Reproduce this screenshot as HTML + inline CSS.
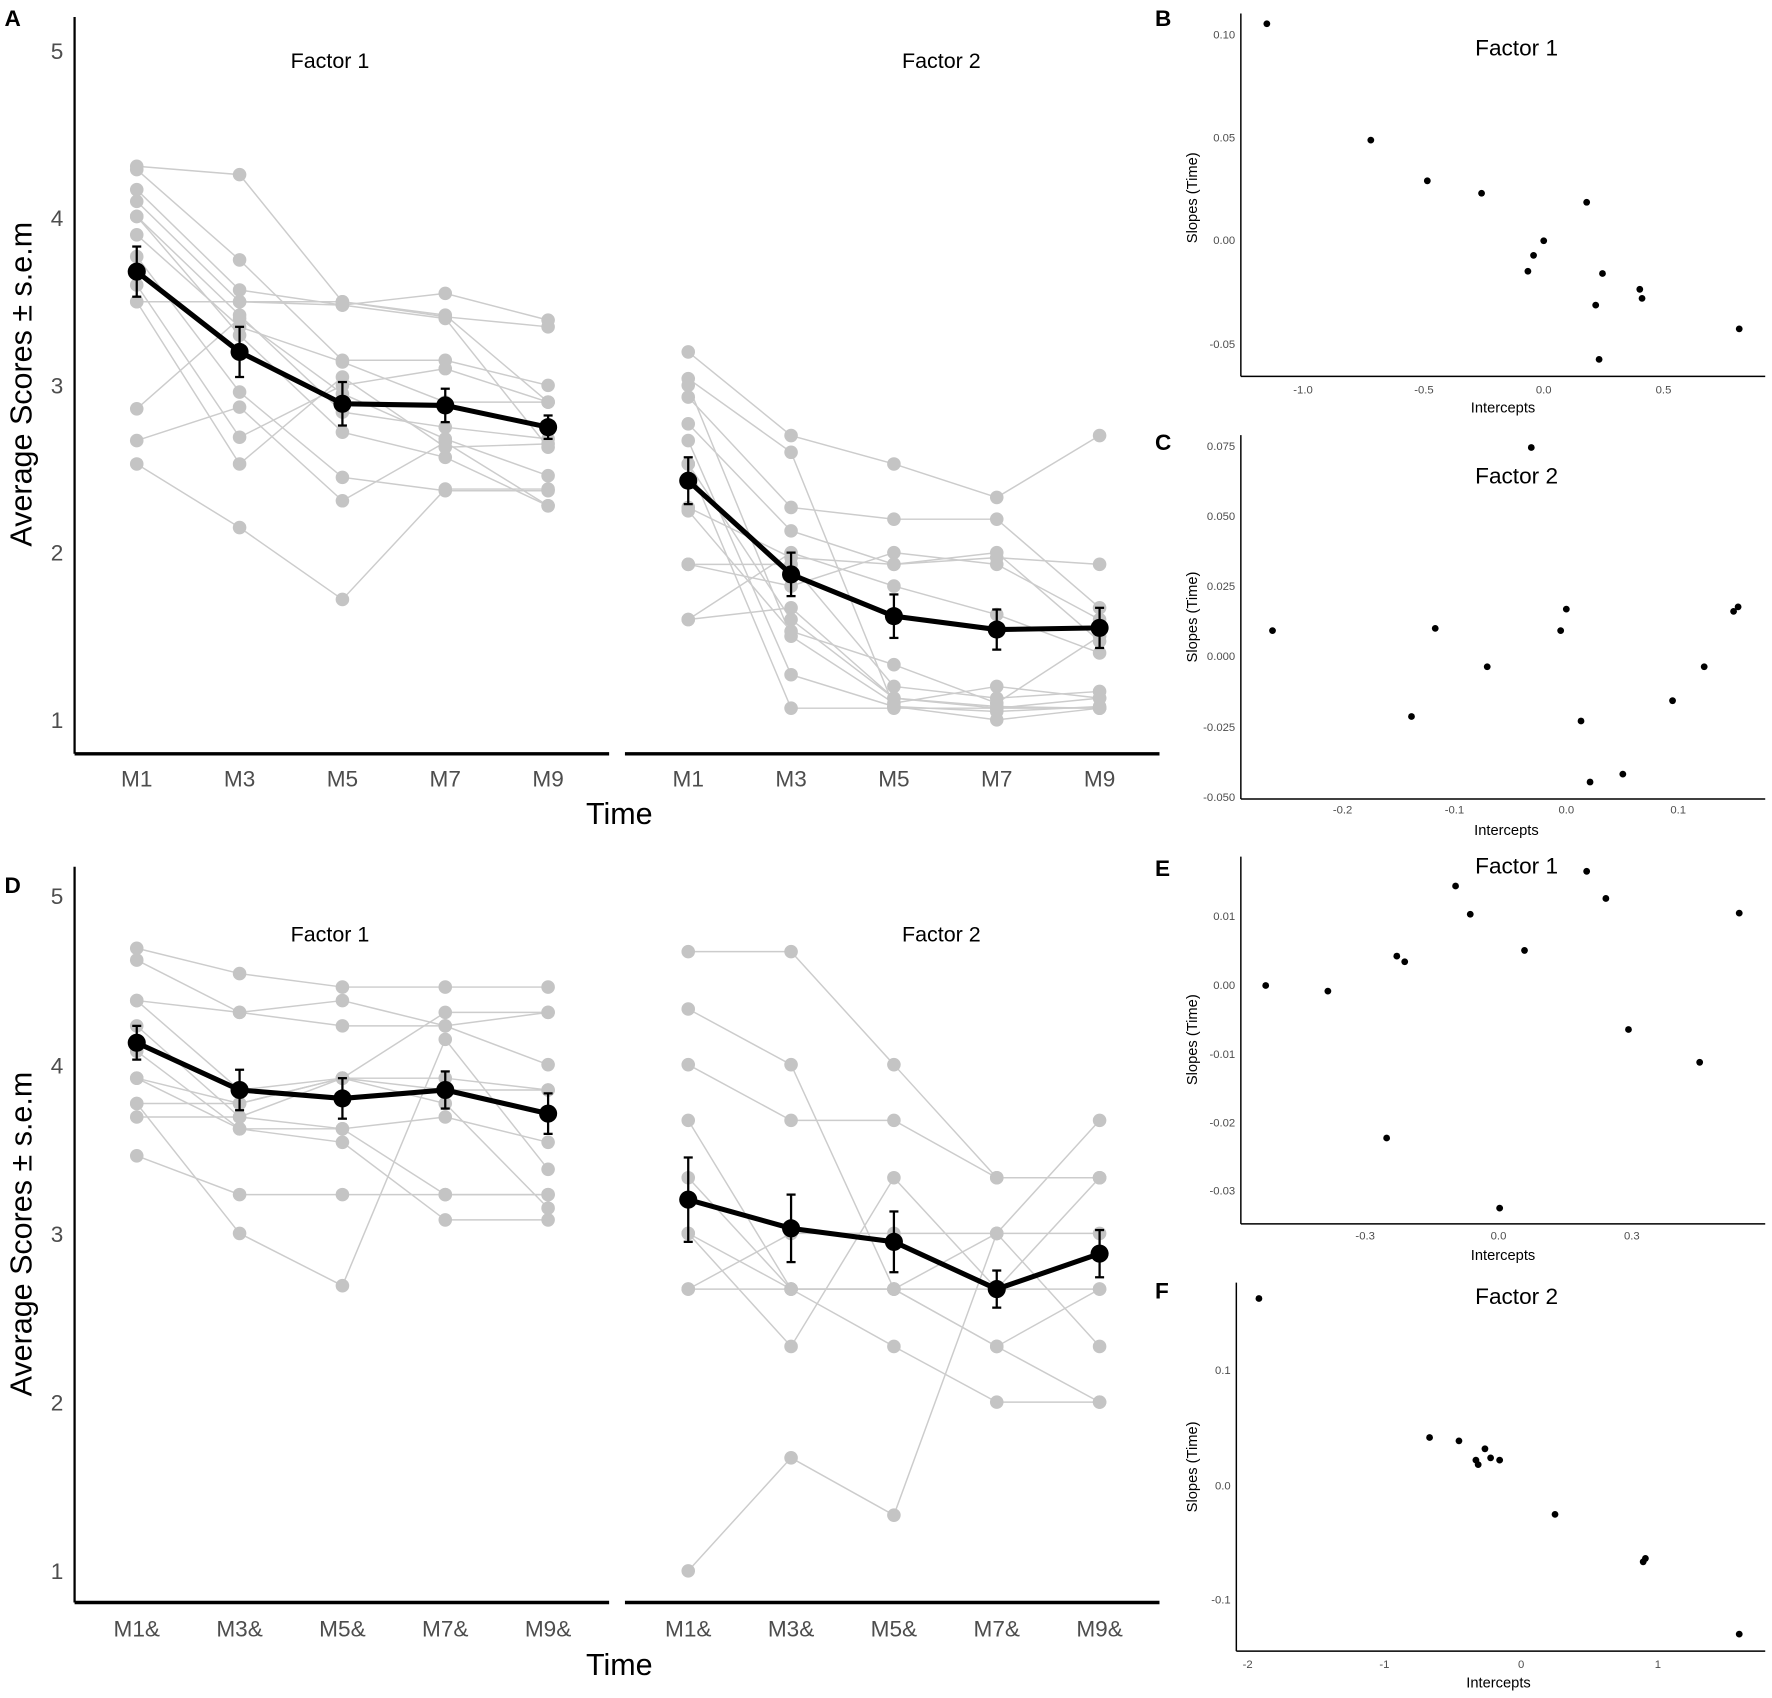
<!DOCTYPE html>
<html><head><meta charset="utf-8">
<style>
html,body{margin:0;padding:0;background:#fff;}
svg{display:block;}
text{font-family:"Liberation Sans",sans-serif;}
</style></head>
<body>
<svg id="s" width="1772" height="1698" viewBox="0 0 1568 1502.5" preserveAspectRatio="none" xmlns="http://www.w3.org/2000/svg">
<rect width="1568" height="1503" fill="#fff"/>
<g id="data"></g>
<g font-weight="bold" font-size="20" fill="#000">
<text x="4" y="23">A</text><text x="1022" y="23">B</text><text x="1022" y="398">C</text>
<text x="4" y="790">D</text><text x="1022" y="775">E</text><text x="1022" y="1149">F</text>
</g>
<g stroke="#000" stroke-width="2" fill="none">
<line x1="66" y1="15" x2="66" y2="667"/>
<line x1="66" y1="667" x2="539" y2="667" stroke-width="3"/>
<line x1="553" y1="667" x2="1026" y2="667" stroke-width="3"/>
<line x1="66" y1="767" x2="66" y2="1418"/>
<line x1="66" y1="1418" x2="539" y2="1418" stroke-width="3"/>
<line x1="553" y1="1418" x2="1026" y2="1418" stroke-width="3"/>
</g>
<g font-size="20" fill="#4d4d4d" text-anchor="end">
<text x="56" y="52">5</text><text x="56" y="200">4</text><text x="56" y="348">3</text><text x="56" y="496">2</text><text x="56" y="644">1</text>
<text x="56" y="800">5</text><text x="56" y="950">4</text><text x="56" y="1099">3</text><text x="56" y="1248">2</text><text x="56" y="1397">1</text>
</g>
<g font-size="20" fill="#4d4d4d" text-anchor="middle">
<text x="121" y="696">M1</text><text x="212" y="696">M3</text><text x="303" y="696">M5</text><text x="394" y="696">M7</text><text x="485" y="696">M9</text>
<text x="609" y="696">M1</text><text x="700" y="696">M3</text><text x="791" y="696">M5</text><text x="882" y="696">M7</text><text x="973" y="696">M9</text>
<text x="121" y="1448">M1&amp;</text><text x="212" y="1448">M3&amp;</text><text x="303" y="1448">M5&amp;</text><text x="394" y="1448">M7&amp;</text><text x="485" y="1448">M9&amp;</text>
<text x="609" y="1448">M1&amp;</text><text x="700" y="1448">M3&amp;</text><text x="791" y="1448">M5&amp;</text><text x="882" y="1448">M7&amp;</text><text x="973" y="1448">M9&amp;</text>
</g>
<g font-size="27" fill="#000" text-anchor="middle">
<text x="548" y="729">Time</text><text x="548" y="1482">Time</text>
<text transform="translate(28,340) rotate(-90)">Average Scores ± s.e.m</text>
<text transform="translate(28,1092) rotate(-90)">Average Scores ± s.e.m</text>
</g>
<g font-size="19" fill="#000" text-anchor="middle">
<text x="292" y="60">Factor 1</text><text x="833" y="60">Factor 2</text>
<text x="292" y="833">Factor 1</text><text x="833" y="833">Factor 2</text>
</g>
<g stroke="#000" stroke-width="1.3" fill="none">
<line x1="1098" y1="12" x2="1098" y2="333"/><line x1="1098" y1="333" x2="1562" y2="333"/>
<line x1="1098" y1="385" x2="1098" y2="707"/><line x1="1098" y1="707" x2="1562" y2="707"/>
<line x1="1098" y1="758" x2="1098" y2="1083"/><line x1="1098" y1="1083" x2="1562" y2="1083"/>
<line x1="1094" y1="1135" x2="1094" y2="1461"/><line x1="1094" y1="1461" x2="1562" y2="1461"/>
</g>
<g font-size="10" fill="#4d4d4d" text-anchor="end">
<text x="1093" y="34">0.10</text><text x="1093" y="125">0.05</text><text x="1093" y="216">0.00</text><text x="1093" y="308">-0.05</text>
<text x="1093" y="398">0.075</text><text x="1093" y="460">0.050</text><text x="1093" y="522">0.025</text><text x="1093" y="584">0.000</text><text x="1093" y="647">-0.025</text><text x="1093" y="709">-0.050</text>
<text x="1093" y="814">0.01</text><text x="1093" y="875">0.00</text><text x="1093" y="936">-0.01</text><text x="1093" y="997">-0.02</text><text x="1093" y="1057">-0.03</text>
<text x="1089" y="1216">0.1</text><text x="1089" y="1318">0.0</text><text x="1089" y="1419">-0.1</text>
</g>
<g font-size="10" fill="#4d4d4d" text-anchor="middle">
<text x="1153" y="348">-1.0</text><text x="1260" y="348">-0.5</text><text x="1366" y="348">0.0</text><text x="1472" y="348">0.5</text>
<text x="1188" y="720">-0.2</text><text x="1287" y="720">-0.1</text><text x="1386" y="720">0.0</text><text x="1485" y="720">0.1</text>
<text x="1208" y="1097">-0.3</text><text x="1326" y="1097">0.0</text><text x="1444" y="1097">0.3</text>
<text x="1104" y="1476">-2</text><text x="1225" y="1476">-1</text><text x="1346" y="1476">0</text><text x="1467" y="1476">1</text>
</g>
<g font-size="13" fill="#000" text-anchor="middle">
<text x="1330" y="365">Intercepts</text><text x="1333" y="739">Intercepts</text><text x="1330" y="1115">Intercepts</text><text x="1326" y="1493">Intercepts</text>
<text transform="translate(1059,175) rotate(-90)">Slopes (Time)</text>
<text transform="translate(1059,546) rotate(-90)">Slopes (Time)</text>
<text transform="translate(1059,920) rotate(-90)">Slopes (Time)</text>
<text transform="translate(1059,1298) rotate(-90)">Slopes (Time)</text>
</g>
<g font-size="20" fill="#000" text-anchor="middle">
<text x="1342" y="49">Factor 1</text><text x="1342" y="428">Factor 2</text>
<text x="1342" y="773">Factor 1</text><text x="1342" y="1154">Factor 2</text>
</g>
</svg>
<script>
var NS="http://www.w3.org/2000/svg",g=document.getElementById("data");
function el(t,a){var e=document.createElementNS(NS,t);for(var k in a)e.setAttribute(k,a[k]);g.appendChild(e);return e;}
var X1=[121,212,303,394,485],X2=[609,700,791,882,973];
function panel(xs,y1,ppu,traj,mean,err){
  var yf=function(v){return y1-(v-1)*ppu;};
  traj.forEach(function(t){el("polyline",{points:t.map(function(v,i){return xs[i]+","+yf(v);}).join(" "),fill:"none",stroke:"#cccccc","stroke-width":1.3});});
  traj.forEach(function(t){t.forEach(function(v,i){el("circle",{cx:xs[i],cy:yf(v),r:6,fill:"#c4c4c4"});});});
  el("polyline",{points:mean.map(function(v,i){return xs[i]+","+yf(v);}).join(" "),fill:"none",stroke:"#000","stroke-width":4.5});
  mean.forEach(function(v,i){var a=yf(v+err[i]),b=yf(v-err[i]);
    el("line",{x1:xs[i],x2:xs[i],y1:a,y2:b,stroke:"#000","stroke-width":2});
    el("line",{x1:xs[i]-4,x2:xs[i]+4,y1:a,y2:a,stroke:"#000","stroke-width":2});
    el("line",{x1:xs[i]-4,x2:xs[i]+4,y1:b,y2:b,stroke:"#000","stroke-width":2});
    el("circle",{cx:xs[i],cy:yf(v),r:8,fill:"#000"});});
}
panel(X1,637,148,[[4.31,4.26,3.5,3.41,3.35],[4.29,3.75,3.15,3.15,3.0],[4.17,3.57,3.48,3.55,3.39],[4.1,3.5,3.5,3.42,2.9],[4.01,3.42,2.84,2.75,2.68],[4.01,3.3,2.72,2.57,2.28],[3.9,3.35,3.14,2.9,2.9],[3.77,2.96,2.45,2.37,2.37],[3.5,3.5,3.48,3.4,2.63],[3.5,2.53,3.05,2.63,2.65],[2.86,3.4,2.95,2.68,2.46],[2.67,2.87,2.31,2.66,2.28],[2.53,2.15,1.72,2.38,2.38],[3.6,2.69,3.0,3.1,2.9]],[3.68,3.2,2.89,2.88,2.75],[0.15,0.15,0.13,0.1,0.07]);
panel(X2,637,148,[[3.2,2.7,2.53,2.33,2.7],[3.04,2.6,1.08,1.0,1.07],[3.0,1.5,1.1,1.2,1.13],[2.93,2.27,2.2,2.2,1.67],[2.77,2.13,1.93,1.97,1.93],[2.67,1.27,1.08,1.05,1.08],[2.53,1.07,1.07,1.07,1.07],[2.27,1.97,1.93,2.0,1.47],[2.25,1.53,1.33,1.1,1.5],[1.93,1.93,1.2,1.13,1.17],[1.93,1.8,2.0,1.93,1.6],[1.6,1.67,1.13,1.08,1.07],[1.6,2.0,1.8,1.63,1.4],[2.53,1.6,1.13,1.07,1.13]],[2.43,1.87,1.62,1.54,1.55],[0.14,0.13,0.13,0.12,0.12]);
panel(X1,1390,149.3,[[4.69,4.54,4.46,4.46,4.46],[4.62,4.31,4.38,4.23,4.31],[4.38,4.31,4.23,4.23,4.0],[4.38,3.85,3.92,4.31,4.31],[4.23,3.69,3.62,3.69,3.54],[4.08,3.62,3.62,3.23,3.23],[3.92,3.77,3.92,3.85,3.85],[3.92,3.62,3.54,3.08,3.08],[3.77,3.77,3.92,3.92,3.85],[3.77,3.0,2.69,4.15,3.38],[3.69,3.69,3.92,3.77,3.15],[3.46,3.23,3.23,3.23,3.23]],[4.13,3.85,3.8,3.85,3.71],[0.1,0.12,0.12,0.11,0.12]);
panel(X2,1390,149.3,[[4.67,4.67,4.0,3.33,3.33],[4.33,4.0,2.67,2.33,2.0],[4.0,3.67,3.67,3.33,3.33],[3.67,2.67,2.33,2.0,2.0],[3.33,2.67,2.67,3.0,3.67],[3.0,2.33,3.33,2.67,3.33],[3.0,2.67,2.67,2.33,2.67],[2.67,2.67,2.67,2.67,2.67],[1.0,1.67,1.33,3.0,2.33],[2.67,3.0,3.0,3.0,3.0]],[3.2,3.03,2.95,2.67,2.88],[0.25,0.2,0.18,0.11,0.14]);
var pts=[[1121,21],[1213,124],[1263,160],[1311,171],[1404,179],[1366,213],[1357,226],[1352,240],[1418,242],[1451,256],[1453,264],[1412,270],[1539,291],[1415,318],
[1355,396],[1126,558],[1270,556],[1386,539],[1381,558],[1316,590],[1249,634],[1399,638],[1407,692],[1436,685],[1480,620],[1508,590],[1534,541],[1538,537],
[1120,872],[1175,877],[1236,846],[1243,851],[1288,784],[1301,809],[1349,841],[1404,771],[1421,795],[1441,911],[1504,940],[1539,808],[1227,1007],[1327,1069],
[1114,1149],[1265,1272],[1291,1275],[1314,1282],[1306,1292],[1308,1296],[1319,1290],[1327,1292],[1376,1340],[1454,1382],[1456,1379],[1539,1446]];
pts.forEach(function(p){el("circle",{cx:p[0],cy:p[1],r:3,fill:"#000"});});
</script>
</body></html>
